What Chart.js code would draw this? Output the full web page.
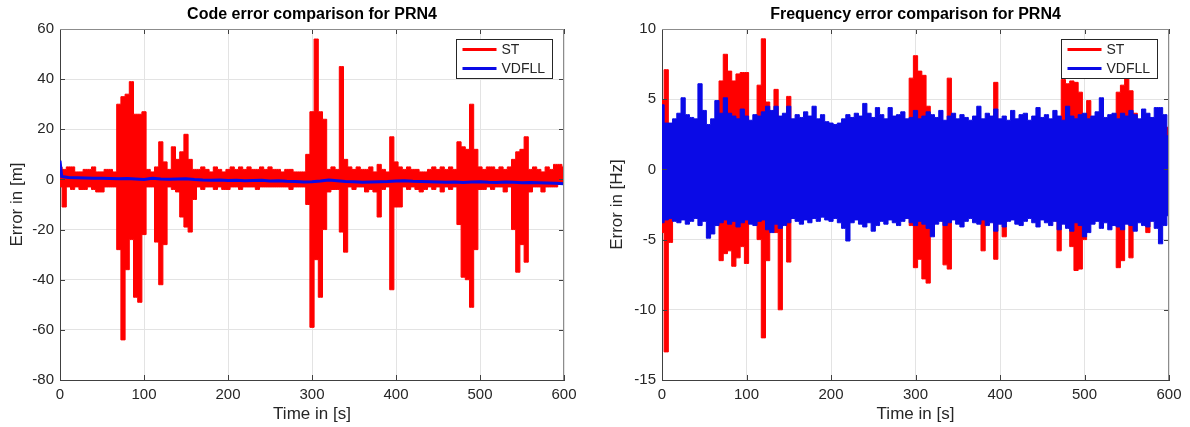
<!DOCTYPE html>
<html>
<head>
<meta charset="utf-8">
<script src="https://cdn.jsdelivr.net/npm/chart.js@4.4.1/dist/chart.umd.min.js"></script>
<style>
  html, body { margin: 0; padding: 0; background: #fff; }
  #wrap { position: relative; width: 1190px; height: 427px; }
  .box { position: absolute; top: 0; height: 427px; }
</style>
</head>
<body>
<div id="wrap">
  <div class="box" style="left:0;width:595px"><canvas id="codeChart"></canvas></div>
  <div class="box" style="left:600px;width:590px"><canvas id="freqChart"></canvas></div>
</div>
<script>
// time bins (5 s) used for the envelopes of the noisy traces
var times = [];
for (var t = 0; t <= 600; t += 5) times.push(t);

// code error, ST: upper / lower envelope per 5 s bin [m]
var codeStMax = [
  5, 4, 5, 5, 3, 3, 4, 4, 5, 3,
  3, 4, 4, 3, 30, 33, 34, 39, 26, 26,
  27, 4, 3, 5, 15, 7, 4, 13, 8, 11,
  18, 8, 4, 4, 5, 4, 3, 5, 4, 3,
  4, 5, 4, 5, 4, 5, 4, 4, 5, 4,
  5, 4, 4, 3, 4, 4, 3, 3, 3, 10,
  27, 56, 27, 24, 4, 5, 4, 45, 8, 5,
  4, 5, 4, 4, 5, 3, 6, 4, 3, 17,
  7, 5, 4, 5, 4, 4, 3, 3, 4, 5,
  4, 5, 4, 5, 4, 15, 13, 12, 30, 12,
  5, 4, 5, 5, 4, 5, 4, 5, 8, 11,
  12, 17, 4, 5, 4, 3, 5, 4, 6, 6,
  5
];
var codeStMin = [
  -3, -11, -3, -4, -3, -4, -4, -3, -4, -5,
  -5, -3, -3, -3, -28, -64, -36, -24, -47, -49,
  -22, -3, -3, -25, -42, -26, -3, -4, -5, -15,
  -19, -21, -8, -3, -4, -3, -3, -4, -3, -4,
  -4, -3, -3, -4, -3, -3, -3, -4, -3, -3,
  -3, -3, -3, -3, -3, -4, -3, -3, -3, -10,
  -59, -32, -47, -20, -5, -4, -4, -21, -29, -3,
  -4, -3, -3, -5, -4, -5, -15, -4, -3, -44,
  -11, -11, -3, -4, -3, -4, -5, -4, -3, -4,
  -3, -5, -3, -4, -3, -18, -39, -40, -51, -28,
  -4, -4, -3, -4, -3, -3, -5, -3, -20, -37,
  -26, -33, -5, -3, -3, -5, -3, -3, -3, -2,
  -2
];

// code error, VDFLL [m]
var vdCodeTimes = [0, 2];
for (var t2 = 10; t2 <= 600; t2 += 10) vdCodeTimes.push(t2);
var codeVd = [
  7.5, 1.2,
  0.8, 0.7, 0.6, 0.5, 0.5, 0.4, 0.3, 0.4, 0.2, 0.0,
  0.5, 0.2, 0.1, 0.2, 0.3, 0.0, -0.2, -0.3, -0.2, -0.4,
  -0.3, -0.5, -0.4, -0.3, -0.6, -0.5, -0.7, -0.8, -1.0, -0.9,
  -0.6, -0.2, -0.5, -0.8, -0.9, -1.1, -1.0, -0.9, -0.8, -0.6,
  -0.5, -0.7, -0.8, -0.9, -1.0, -1.1, -1.0, -1.2, -1.0, -0.9,
  -1.1, -1.2, -1.0, -1.1, -1.3, -1.2, -1.3, -1.4, -1.5, -1.7
];

// frequency error, VDFLL envelope [Hz]
var freqVdMax = [
  4.6, 3.3, 3.3, 3.6, 4.0, 5.1, 3.9, 3.7, 3.6, 6.1,
  4.2, 3.2, 3.6, 4.9, 4.0, 5.1, 4.0, 3.8, 3.6, 4.3,
  3.8, 3.5, 3.9, 3.8, 4.1, 4.5, 4.2, 4.5, 3.8, 4.0,
  4.5, 3.6, 3.9, 3.7, 4.1, 3.8, 4.5, 3.6, 3.9, 3.4,
  3.3, 3.2, 3.3, 3.6, 3.9, 3.7, 4.0, 3.8, 4.7, 4.0,
  3.7, 4.4, 3.9, 3.6, 4.4, 3.8, 3.9, 4.1, 3.6, 3.7,
  4.2, 3.6, 3.8, 4.1, 3.9, 3.7, 4.2, 3.5, 3.8, 4.0,
  3.6, 3.9, 3.7, 3.5, 3.8, 4.5, 3.6, 4.0, 3.8, 4.3,
  3.6, 3.8, 3.5, 4.2, 3.6, 3.9, 4.0, 3.5, 3.8, 4.4,
  3.7, 3.9, 3.6, 4.2, 3.8, 3.5, 4.5, 3.8, 3.6, 3.9,
  4.0, 3.6, 3.8, 4.1, 5.1, 3.7, 3.9, 4.0, 3.6, 4.0,
  3.8, 4.2, 3.9, 3.6, 4.3, 4.0, 3.7, 4.4, 4.4, 3.9,
  2.4
];
var freqVdMin = [
  -3.8, -3.6, -3.5, -3.7, -3.8, -3.6, -3.9, -3.7, -3.5, -4.0,
  -3.7, -4.9, -4.6, -4.0, -3.8, -3.6, -3.9, -3.7, -4.1, -3.8,
  -3.6, -3.9, -4.0, -3.7, -3.6, -4.3, -4.5, -3.9, -4.2, -4.0,
  -3.8, -3.5, -3.7, -3.9, -3.6, -3.8, -3.5, -3.7, -3.4, -3.6,
  -3.7, -3.5, -3.8, -4.2, -5.1, -3.8, -3.6, -3.9, -4.1, -3.8,
  -4.4, -4.0, -3.7, -3.9, -3.6, -3.8, -4.0, -3.7, -3.5, -3.8,
  -4.0, -3.7, -3.9, -4.2, -4.8, -3.9, -3.7, -4.0, -3.8, -3.6,
  -3.9, -4.1, -3.7, -3.5, -3.8, -3.9, -3.6, -4.0, -3.8, -4.4,
  -3.9, -4.1, -3.7, -3.6, -3.9, -4.0, -3.7, -3.5, -3.8, -4.1,
  -3.6, -3.8, -4.0, -3.7, -4.3, -3.9, -4.2, -4.4, -3.8, -4.0,
  -4.8, -4.5, -3.9, -3.7, -4.2, -3.8, -4.3, -4.0, -4.1, -4.3,
  -3.9, -4.0, -4.4, -3.8, -4.0, -4.1, -3.7, -4.2, -5.3, -4.0,
  -3.3
];

// frequency error, ST envelope [Hz]
var freqStMax = [
  4.9, 7.1, 3, 3, 3, 3, 3, 3, 3, 3,
  3, 3, 3, 3, 6.3, 8.2, 7.0, 6.3, 6.8, 6.9,
  6.9, 3, 3, 6.0, 9.3, 4.8, 3, 5.7, 3, 3,
  5.2, 3, 3, 3, 3, 3, 3, 3, 3, 3,
  3, 3, 3, 3, 3, 3, 3, 3, 3, 3,
  3, 3, 3, 3, 3, 3, 3, 3, 3, 6.5,
  8.1, 7.0, 6.7, 4.5, 3, 3, 3, 3, 6.5, 3,
  3, 3, 3, 3, 3, 3, 3, 3, 3, 6.2,
  3, 3, 3, 3, 3, 3, 3, 3, 3, 3,
  3, 3, 3, 3, 3, 6.4, 6.1, 6.3, 6.2, 5.5,
  3, 4.9, 3, 3, 3, 3, 3, 3, 5.5, 6.0,
  6.5, 5.6, 4.0, 3, 3, 3, 3, 3, 3, 3,
  3
];
var freqStMin = [
  -4.5, -13, -5.2, -3, -3, -3, -3, -3, -3, -3,
  -3, -3, -3, -3, -6.5, -6.0, -5.8, -6.9, -6.3, -5.5,
  -6.7, -3, -3, -5.0, -12, -6.5, -3, -4.5, -10, -3,
  -6.6, -3, -3, -3, -3, -3, -3, -3, -3, -3,
  -3, -3, -3, -3, -3, -3, -3, -3, -3, -3,
  -3, -3, -3, -3, -3, -3, -3, -3, -3, -4.0,
  -7.0, -6.4, -7.8, -8.1, -4.5, -3, -3, -6.8, -7.1, -3,
  -3, -3, -3, -3, -3, -3, -5.8, -3, -3, -6.4,
  -3, -4.8, -3, -3, -3, -3, -3, -3, -3, -3,
  -3, -3, -3, -3, -5.8, -3, -3, -5.5, -7.2, -7.1,
  -5.0, -3, -3, -3, -3, -3, -3, -3, -7.0, -6.5,
  -3, -6.3, -3, -3, -3, -4.5, -3, -3, -3, -3,
  -3
];

var RED = "#ff0000";
var BLUE = "#0a0ae6";
var TEXT = "#262626";

Chart.defaults.font.family = "'Liberation Sans', Arial, Helvetica, sans-serif";
Chart.defaults.color = TEXT;

function pts(xs, ys) {
  return ys.map(function (y, i) { return { x: xs[i], y: y }; });
}

function band(values, color, fillNext) {
  return {
    data: pts(times, values),
    borderColor: color,
    backgroundColor: color,
    borderWidth: 1,
    pointRadius: 0,
    stepped: "middle",
    fill: fillNext ? "+1" : false
  };
}

// MATLAB-like frame: box, inward ticks, title and boxed legend
var matlabFrame = {
  id: "matlabFrame",
  afterDraw: function (chart, args, opts) {
    var ctx = chart.ctx;
    var a = chart.chartArea;
    var xs = chart.scales.x, ys = chart.scales.y;
    ctx.save();

    ctx.strokeStyle = "#404040";
    ctx.lineWidth = 1;
    ctx.beginPath();
    xs.ticks.forEach(function (tk) {
      var px = Math.round(xs.getPixelForValue(tk.value)) + 0.5;
      ctx.moveTo(px, a.bottom); ctx.lineTo(px, a.bottom - 5);
      ctx.moveTo(px, a.top); ctx.lineTo(px, a.top + 5);
    });
    ys.ticks.forEach(function (tk) {
      var py = Math.round(ys.getPixelForValue(tk.value)) + 0.5;
      ctx.moveTo(a.left, py); ctx.lineTo(a.left + 5, py);
      ctx.moveTo(a.right, py); ctx.lineTo(a.right - 5, py);
    });
    ctx.stroke();

    ctx.strokeStyle = "#8c8c8c";
    ctx.beginPath();
    ctx.moveTo(a.left, Math.round(a.top) + 0.5);
    ctx.lineTo(a.right, Math.round(a.top) + 0.5);
    ctx.moveTo(Math.round(a.right) - 0.5, a.top);
    ctx.lineTo(Math.round(a.right) - 0.5, a.bottom);
    ctx.stroke();

    // title
    ctx.fillStyle = "#000";
    ctx.font = "bold 16px 'Liberation Sans', Arial, sans-serif";
    ctx.textAlign = "center";
    ctx.textBaseline = "middle";
    ctx.fillText(opts.title, (a.left + a.right) / 2, 15);

    // legend
    var w = 96, h = 39;
    var bx = Math.round(a.right - 12 - w) + 0.5, by = Math.round(a.top + 10) + 0.5;
    ctx.fillStyle = "#fff";
    ctx.fillRect(bx, by, w, h);
    ctx.strokeStyle = "#262626";
    ctx.lineWidth = 1;
    ctx.strokeRect(bx, by, w, h);
    ctx.font = "14px 'Liberation Sans', Arial, sans-serif";
    ctx.textAlign = "left";
    opts.items.forEach(function (it, i) {
      var ly = by + 10 + i * 19;
      ctx.strokeStyle = it.color;
      ctx.lineWidth = 3;
      ctx.beginPath();
      ctx.moveTo(bx + 6, ly); ctx.lineTo(bx + 40, ly);
      ctx.stroke();
      ctx.fillStyle = TEXT;
      ctx.fillText(it.label, bx + 45, ly + 1);
    });
    ctx.restore();
  }
};

function makeOptions(o) {
  return {
    responsive: true,
    maintainAspectRatio: false,
    animation: false,
    devicePixelRatio: 1,
    layout: { padding: { top: 29, right: o.padRight, left: 0, bottom: 0 } },
    plugins: {
      legend: { display: false },
      tooltip: { enabled: false },
      matlabFrame: { title: o.title, items: [{ label: "ST", color: RED }, { label: "VDFLL", color: BLUE }] }
    },
    scales: {
      x: {
        type: "linear",
        min: 0, max: 600,
        ticks: { stepSize: 100, padding: 6, font: { size: 15 }, color: TEXT, maxRotation: 0 },
        grid: { color: "#e3e3e3", drawTicks: false },
        border: { color: "#404040" },
        title: { display: true, text: "Time in [s]", font: { size: 17 }, color: TEXT, padding: { top: 0, bottom: 2 } },
        afterFit: function (s) { s.height = 47; }
      },
      y: {
        min: o.ymin, max: o.ymax,
        ticks: { stepSize: o.ystep, padding: 6, font: { size: 15 }, color: TEXT },
        grid: { color: "#e3e3e3", drawTicks: false },
        border: { color: "#404040" },
        title: { display: true, text: o.ytitle, font: { size: 17 }, color: TEXT, padding: { top: 7, bottom: 0 } },
        afterFit: function (s) { s.width = o.yWidth; }
      }
    }
  };
}

new Chart(document.getElementById("codeChart"), {
  type: "line",
  data: {
    datasets: [
      {
        label: "VDFLL",
        data: pts(vdCodeTimes, codeVd),
        borderColor: BLUE,
        borderWidth: 3,
        pointRadius: 0,
        fill: false
      },
      band(codeStMax, RED, true),
      band(codeStMin, RED, false)
    ]
  },
  options: makeOptions({
    title: "Code error comparison for PRN4",
    ytitle: "Error in [m]",
    ymin: -80, ymax: 60, ystep: 20,
    yWidth: 60, padRight: 31
  }),
  plugins: [matlabFrame]
});

new Chart(document.getElementById("freqChart"), {
  type: "line",
  data: {
    datasets: [
      band(freqVdMax, BLUE, true),
      band(freqVdMin, BLUE, false),
      band(freqStMax, RED, true),
      band(freqStMin, RED, false)
    ]
  },
  options: makeOptions({
    title: "Frequency error comparison for PRN4",
    ytitle: "Error in [Hz]",
    ymin: -15, ymax: 10, ystep: 5,
    yWidth: 62, padRight: 21
  }),
  plugins: [matlabFrame]
});
</script>
</body>
</html>
